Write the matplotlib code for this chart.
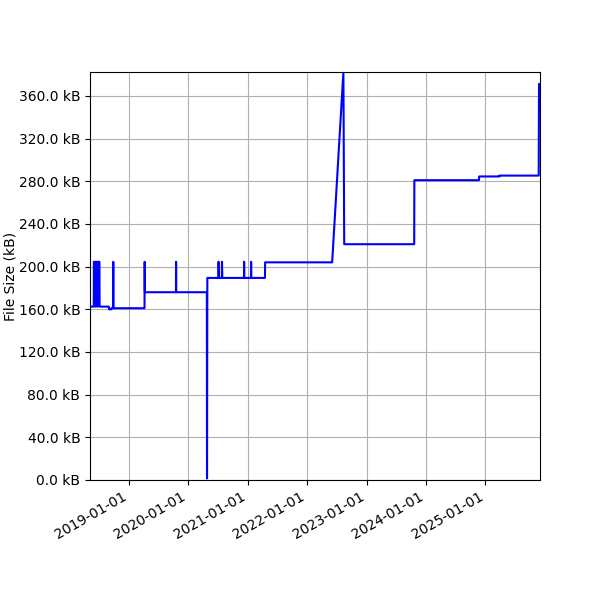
import matplotlib
matplotlib.use('Agg')
import matplotlib.pyplot as plt
import matplotlib.dates as mdates
import matplotlib.ticker as ticker
import pandas as pd

# commit dates and file sizes (kB)
dates = [
    '2018-05-08', '2018-05-31', '2018-06-01', '2018-06-09', '2018-06-10',
    '2018-06-13', '2018-06-14', '2018-06-22', '2018-06-23', '2018-06-25',
    '2018-06-26', '2018-07-05', '2018-07-06', '2018-07-16', '2018-07-17',
    '2018-09-01', '2018-09-02', '2018-09-16', '2018-09-17', '2018-09-27',
    '2018-09-28', '2018-09-29', '2019-04-08', '2019-04-09', '2019-04-10',
    '2019-10-18', '2019-10-19', '2019-10-20', '2020-04-25', '2020-04-26',
    '2020-04-28', '2020-07-05', '2020-07-06', '2020-07-08', '2020-07-26',
    '2020-07-27', '2020-07-29', '2020-12-09', '2020-12-10', '2020-12-11',
    '2021-01-21', '2021-01-22', '2021-01-23', '2021-04-17', '2021-04-18',
    '2022-06-04', '2022-08-12', '2022-08-17', '2023-10-21', '2023-10-22',
    '2024-11-22', '2024-11-23', '2025-03-27', '2025-03-28', '2025-11-24',
    '2025-11-26',
]
sizes = [
    162.5, 162.5, 204.5, 204.5, 162.5,
    162.5, 204.5, 204.5, 162.5, 162.5,
    204.5, 204.5, 162.5, 162.5, 162.5,
    162.5, 160.0, 160.0, 161.0, 161.0,
    204.5, 161.0, 161.0, 204.5, 176.0,
    176.0, 204.5, 176.0, 176.0, 1.5,
    189.4, 189.4, 204.5, 189.4, 189.4,
    204.5, 189.4, 189.4, 204.5, 189.4,
    189.4, 204.5, 189.4, 189.4, 204.0,
    204.0, 382.4, 221.0, 221.0, 281.0,
    281.0, 284.5, 284.5, 285.3, 285.3,
    371.0,
]
yticks = [0, 40, 80, 120, 160, 200, 240, 280, 320, 360]

x = pd.to_datetime(dates)

fig, ax = plt.subplots(figsize=(6, 6), dpi=100)
fig.subplots_adjust(left=0.15, right=0.9, top=0.88, bottom=0.2)

ax.plot(x, sizes, color='blue', linewidth=1.5)

ax.set_xlim(x.min(), x.max() + pd.Timedelta(days=6))
ax.set_ylim(0, max(sizes))
ax.set_yticks(yticks)
ax.yaxis.set_major_formatter(ticker.FuncFormatter(lambda v, p: '%.1f kB' % v))
ax.xaxis.set_major_locator(mdates.YearLocator())
ax.xaxis.set_major_formatter(mdates.DateFormatter('%Y-%m-%d'))
plt.setp(ax.get_xticklabels(), rotation=30, ha='right')

ax.set_ylabel('File Size (kB)', labelpad=1)
ax.grid(True)

fig.savefig('out.png')
